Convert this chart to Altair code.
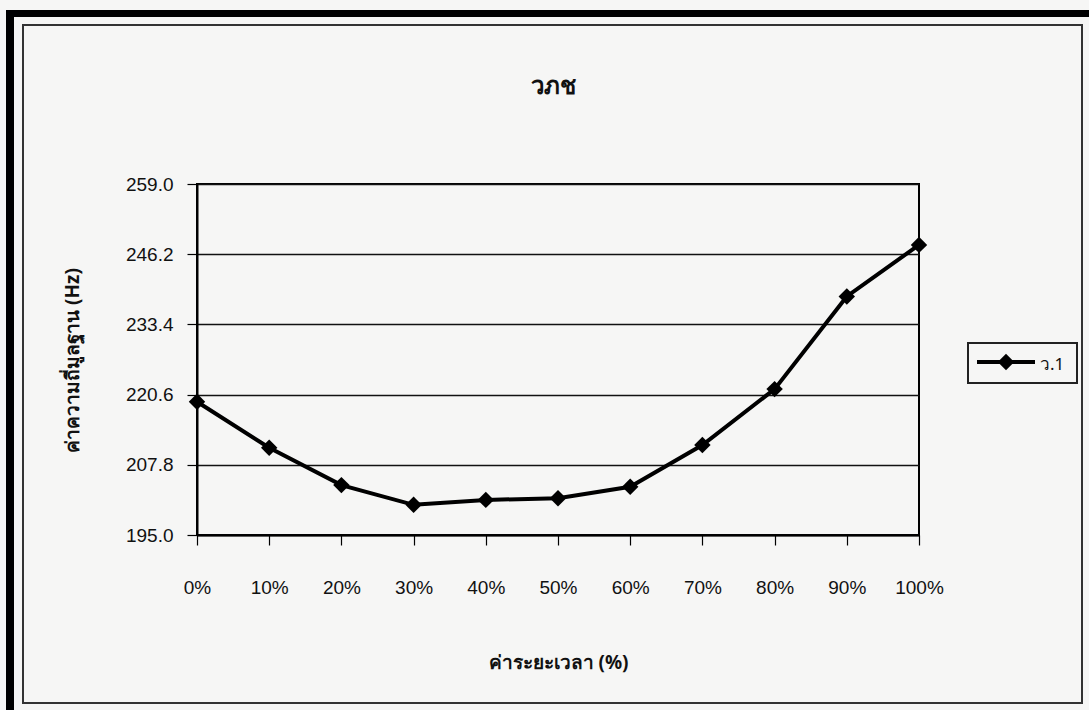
import altair as alt
import pandas as pd

# ---- data ----
time_pct = [0, 10, 20, 30, 40, 50, 60, 70, 80, 90, 100]
f0_values = [219.3, 210.9, 204.1, 200.5, 201.4, 201.7, 203.8, 211.4, 221.6, 238.5, 247.9]
series_name = "ว.1"
y_ticks = [195.0, 207.8, 220.6, 233.4, 246.2, 259.0]

chart_title = "วภช"
x_title = "ค่าระยะเวลา (%)"
y_title = "ค่าความถี่มูลฐาน (Hz)"

df = pd.DataFrame({"t": time_pct, "f0": f0_values, "series": [series_name] * len(time_pct)})

# plot area geometry (pixels)
PL, PT, PW, PH = 197, 184, 722, 351
FONT = "Liberation Sans"
THAI = "Noto Sans"

x_enc = alt.X(
    "t:Q",
    scale=alt.Scale(domain=[0, 100], nice=False, zero=False),
    axis=alt.Axis(
        values=time_pct, labelExpr="datum.value + '%'", grid=False,
        labelFlush=False, labelOverlap=False, labelBound=False,
        tickSize=10, tickColor="black", tickWidth=1.2, domainColor="black", domainWidth=2,
        labelPadding=33, labelFontSize=19, labelFont=FONT, labelColor="#111",
        title=x_title, titleFont=THAI, titleFontSize=19, titleFontWeight="bold",
        titleX=PW / 2, titleY=127, titleBaseline="middle", titleColor="#111",
    ),
)
y_enc = alt.Y(
    "f0:Q",
    scale=alt.Scale(domain=[195, 259], nice=False, zero=False),
    axis=alt.Axis(
        values=y_ticks, format=".1f", grid=True, gridColor="#111", gridWidth=1.3,
        labelOverlap=False, labelFlush=False,
        tickSize=10, tickColor="black", tickWidth=1.2, domainColor="black", domainWidth=2,
        labelPadding=14, labelFontSize=19, labelFont=FONT, labelColor="#111",
        title=y_title, titleFont=THAI, titleFontSize=19, titleFontWeight="bold",
        titleAngle=270, titleX=-125, titleY=176, titleAlign="center",
        titleBaseline="middle", titleColor="#111",
    ),
)

line = alt.Chart(df).mark_line(color="black", strokeWidth=4).encode(x=x_enc, y=y_enc, detail="series:N")
pts = alt.Chart(df).mark_point(shape="diamond", filled=True, color="black", size=270, opacity=1).encode(
    x="t:Q", y="f0:Q"
)

one = pd.DataFrame({"series": [series_name], "title": [chart_title]})


def px(v):
    return alt.value(v - PL)


def py(v):
    return alt.value(v - PT)


# decorative frames
top_bar = alt.Chart(one).mark_rect(color="black").encode(x=px(6), x2=px(1089), y=py(10), y2=py(17))
left_bar = alt.Chart(one).mark_rect(color="black").encode(x=px(6), x2=px(14), y=py(10), y2=py(710))
inner = alt.Chart(one).mark_rect(fill=None, stroke="#333", strokeWidth=2).encode(
    x=px(23), x2=px(1082), y=py(25), y2=py(703)
)

# chart title
title_txt = alt.Chart(one).mark_text(
    align="center", baseline="middle", fontSize=24, fontWeight="bold", font=THAI, color="#111"
).encode(x=px(553), y=py(87), text="title:N")

# legend
leg_box = alt.Chart(one).mark_rect(fill=None, stroke="#222", strokeWidth=2).encode(
    x=px(968), x2=px(1077), y=py(343), y2=py(383)
)
leg_line = alt.Chart(one).mark_rule(color="black", strokeWidth=4).encode(
    x=px(977), x2=px(1035), y=py(362)
)
leg_pt = alt.Chart(one).mark_point(shape="diamond", filled=True, color="black", size=270, opacity=1).encode(
    x=px(1006), y=py(362)
)
leg_txt = alt.Chart(one).mark_text(align="left", baseline="middle", fontSize=17, font=THAI, color="#111").encode(
    x=px(1040), y=py(365), text="series:N"
)

chart = (
    alt.layer(top_bar, left_bar, inner, title_txt, line, pts, leg_box, leg_line, leg_pt, leg_txt)
    .properties(
        width=PW, height=PH,
        autosize=alt.AutoSizeParams(type="none"),
        padding={"left": PL, "top": PT, "right": 1089 - PL - PW, "bottom": 710 - PT - PH},
        background="#f6f6f5",
    )
    .configure_view(stroke="black", strokeWidth=2)
)

chart.save("out.html", embed_options={"renderer": "svg", "actions": False})
